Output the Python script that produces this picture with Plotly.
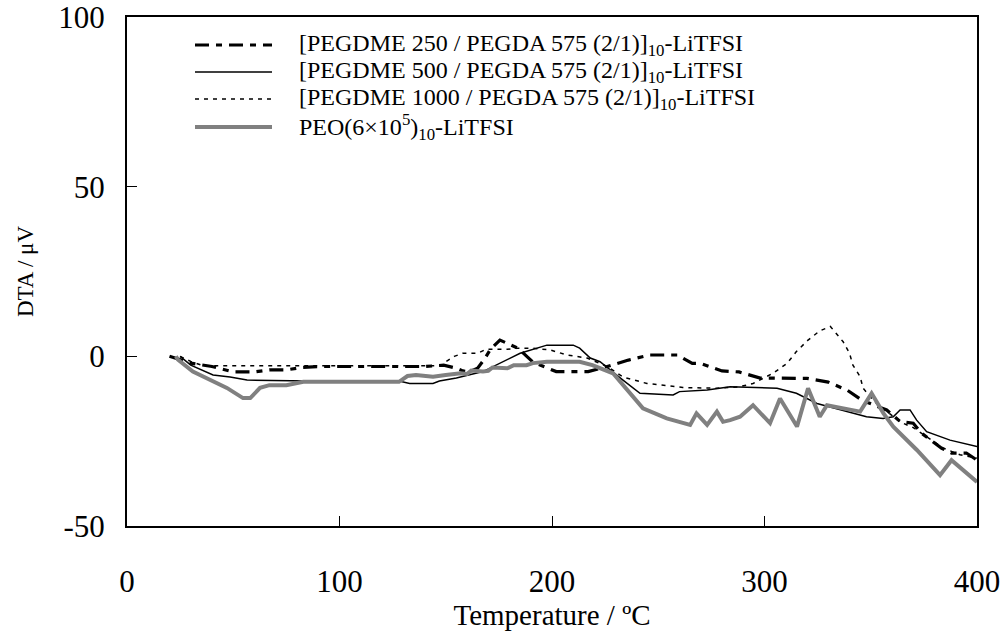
import plotly.graph_objects as go

# ---- data ----
t_250 = [20, 25, 30, 40, 50, 60, 67, 75, 82, 90, 140, 149, 155, 158, 161, 165, 168, 171, 175.5,
         184, 191, 202, 217, 226, 236, 246, 259, 266, 270, 280, 288, 298, 307, 320, 330, 339,
         346, 352, 357.5, 364, 370, 374, 379, 383.4, 388, 395, 400]
v_250 = [0, -1, -2, -3, -4.6, -4.6, -4, -4, -3.3, -3, -3, -2.6, -3.5, -4.3, -4.6, -3.5, -1, 2, 4.8,
         2.4, -1.7, -4.5, -4.5, -3, -1.1, 0.4, 0.4, -2.1, -2.1, -4.3, -4.6, -6.4, -6.5, -6.5, -7.6, -10,
         -13, -14.5, -15.8, -19.3, -19.7, -22.7, -25.2, -27.1, -28.5, -28.5, -30.6]

t_500 = [25, 30, 40.5, 48.5, 56.5, 86, 128, 133, 144, 147, 155, 167.5, 185, 197.6, 210, 213, 218,
         222.6, 233.4, 241.4, 257, 260, 273, 283.8, 305.9, 315, 324.7, 338.8, 348, 355.8, 360.6,
         363.8, 368.5, 371.6, 376.3, 387.3, 400]
v_500 = [0, -2.6, -5.5, -6.1, -7, -7.3, -7.3, -8, -8, -7.3, -6.4, -4.5, 0.9, 3.3, 3.3, 2.4, -0.5,
         -1.6, -7, -10.9, -11.4, -10.4, -9.9, -9, -9.4, -10.9, -13.9, -16.3, -17.8, -18.3, -17.8,
         -15.8, -15.8, -18.8, -22.2, -24.7, -26.6]

t_1000 = [25, 30, 36, 148, 149, 154, 158, 165, 169, 179, 183.5, 191, 199, 207, 216.5, 226, 233.4,
          244.7, 255.5, 261.6, 277.6, 288, 294.6, 304, 310.6, 315, 320.5, 326, 331, 337, 340, 341.6,
          345, 346.4, 352, 358, 364, 370, 379, 384, 392, 400]
v_1000 = [0, -1.5, -2.8, -2.8, -2, 0, 0.9, 0.9, 2.1, 2.1, 2.4, 2.4, 1.9, 0.4, -0.5, -3, -6.1,
          -8, -8.7, -9.2, -9.4, -9, -8, -5, -2.1, 1.4, 4.8, 7.5, 8.8, 4.3, 0.9, -2.6,
          -6, -9.4, -13.5, -16.5, -19.4, -21, -25, -27, -29, -30]

t_peo = [23, 24, 31, 40.5, 47, 54.6, 58, 62.6, 67, 75, 83, 128, 132, 136, 144, 150, 157, 160, 162,
         167.5, 170, 172, 179, 182, 188, 191, 197.6, 213, 219, 228.7, 236.7, 242.8, 254, 265, 268,
         273, 277.6, 280.5, 283.8, 288.5, 294.6, 302.6, 307.3, 315.3, 320.5, 326, 329.4, 341.6,
         345, 350.4, 356, 360.6, 371.7, 382.6, 388, 400]
v_peo = [0, -1, -4.5, -7.5, -9.3, -12.3, -12.3, -9.3, -8.5, -8.5, -7.5, -7.5, -5.8, -5.5, -6, -5.5,
         -5, -5.2, -4.2, -4.5, -4.3, -3.3, -3.5, -2.6, -2.6, -2.0, -1.6, -1.6, -2.6, -5, -10.9, -15.3,
         -18.3, -20.2, -16.8, -20.2, -16.3, -19.3, -18.8, -17.8, -14.4, -19.7, -12.4, -20.7, -9.4,
         -17.8, -14.4, -15.8, -16.3, -10.9, -16.8, -20.7, -27.6, -35, -30.6, -37]

x_ticks = [0, 100, 200, 300, 400]
x_tick_text = ["0", "100", "200", "300", "400"]
y_ticks = [-50, 0, 50, 100]
y_tick_text = ["-50", "0", "50", "100"]

legend_labels = [
    "[PEGDME 250 / PEGDA 575 (2/1)]<sub>10</sub>-LiTFSI",
    "[PEGDME 500 / PEGDA 575 (2/1)]<sub>10</sub>-LiTFSI",
    "[PEGDME 1000 / PEGDA 575 (2/1)]<sub>10</sub>-LiTFSI",
    "PEO(6×10<sup>5</sup>)<sub>10</sub>-LiTFSI",
]

FONT = "Liberation Serif, Times New Roman, serif"

styles = [
    dict(color="black", width=3.2, dash="14px,7px,6px,7px"),
    dict(color="black", width=1.5, dash="solid"),
    dict(color="black", width=1.5, dash="4px,5px"),
    dict(color="#808080", width=4, dash="solid"),
]

fig = go.Figure()
series = [(t_250, v_250), (t_500, v_500), (t_1000, v_1000), (t_peo, v_peo)]
for (t, v), st, name in zip(series, styles, legend_labels):
    fig.add_trace(go.Scatter(x=t, y=v, mode="lines", line=st, name=name, showlegend=False,
                             hoverinfo="skip"))

# ---- manual legend (sample lines + labels), in paper coordinates ----
x0, x1 = 127, 977
y0, y1 = 17, 526
def px(x):
    return (x - x0) / (x1 - x0)
def py(y):
    return (y1 - y) / (y1 - y0)

rows = [45, 72, 99, 127]
for ry, st, lab in zip(rows, styles, legend_labels):
    fig.add_shape(type="line", xref="paper", yref="paper",
                  x0=px(195), x1=px(272), y0=py(ry), y1=py(ry),
                  line=dict(color=st["color"], width=st["width"], dash=st["dash"]))
    fig.add_annotation(xref="paper", yref="paper", x=px(297), y=py(ry), xanchor="left",
                       yanchor="middle", text=lab, showarrow=False,
                       font=dict(family=FONT, size=24, color="black"))

fig.update_layout(
    width=1006, height=638,
    margin=dict(l=127, r=29, t=17, b=112, autoexpand=False),
    paper_bgcolor="white", plot_bgcolor="white",
    font=dict(family=FONT, color="black"),
    showlegend=False,
)
fig.update_xaxes(
    range=[0, 400], tickvals=x_ticks, ticktext=x_tick_text, ticks="inside", ticklen=10,
    tickcolor="black", automargin=False, ticklabeloverflow="allow",
    showline=True, linecolor="black", linewidth=2, mirror=True, showgrid=False, zeroline=False,
    tickfont=dict(family=FONT, size=31), ticklabelstandoff=27,
    title=dict(text="Temperature / ºC", font=dict(family=FONT, size=29), standoff=5),
)
fig.update_yaxes(
    range=[-50, 100], tickvals=y_ticks, ticktext=y_tick_text, ticks="inside", ticklen=10,
    tickcolor="black", automargin=False, ticklabeloverflow="allow",
    showline=True, linecolor="black", linewidth=2, mirror=True, showgrid=False, zeroline=False,
    tickfont=dict(family=FONT, size=31), ticklabelstandoff=14,
    title=dict(text="DTA / μV", font=dict(family=FONT, size=23), standoff=18),
)

fig.write_html("out.html")
